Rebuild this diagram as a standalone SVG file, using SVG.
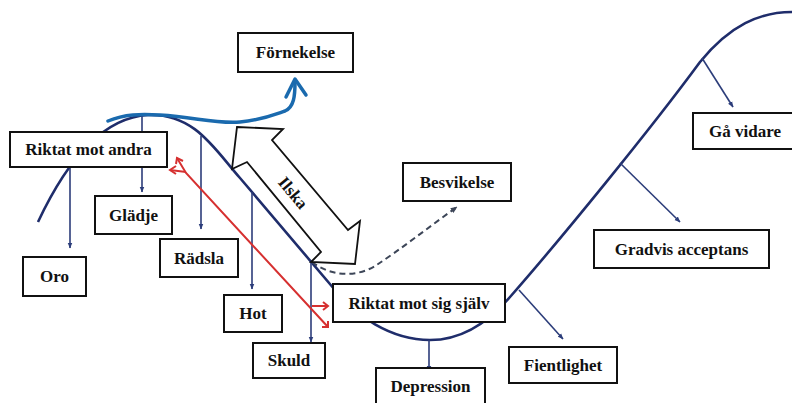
<svg xmlns="http://www.w3.org/2000/svg" width="792" height="403" viewBox="0 0 792 403">
<style>
.box{fill:#fff;stroke:#111;stroke-width:2}
.lbl{font-family:"Liberation Serif","Times New Roman",serif;font-weight:bold;font-size:17px;fill:#111;text-anchor:middle;dominant-baseline:central}
.curve{fill:none;stroke:#1f2d6b;stroke-width:2.6}
.drop{fill:none;stroke:#2c3d7a;stroke-width:1.6;marker-end:url(#ah)}
.red{fill:none;stroke:#d63030;stroke-width:2}
</style>
<defs>
<marker id="ah" viewBox="0 0 10 10" refX="9" refY="5" markerWidth="6" markerHeight="6" orient="auto" markerUnits="userSpaceOnUse">
<path d="M0,1 L10,5 L0,9 Z" fill="#2c3d7a"/>
</marker>
<marker id="ahd" viewBox="0 0 10 10" refX="9" refY="5" markerWidth="7" markerHeight="7" orient="auto" markerUnits="userSpaceOnUse">
<path d="M0,1 L10,5 L0,9 Z" fill="#3d4658"/>
</marker>
</defs>
<rect width="792" height="403" fill="#fff"/>
<g id="connectors">
<path class="curve" d="M38,222 C60,175 95,118 148,115 C195,113 215,150 240,178 L335,290 C355,315 390,340 430,340 C465,340 492,318 510,297 C560,240 650,130 700,62 C730,25 760,12 792,12"/>
<line class="drop" x1="70" y1="163" x2="70" y2="248"/>
<line class="drop" x1="142" y1="116" x2="142" y2="192"/>
<line class="drop" x1="201" y1="136" x2="201" y2="229"/>
<line class="drop" x1="252" y1="192" x2="252" y2="289"/>
<line class="drop" x1="311" y1="262" x2="311" y2="342"/>
<line class="drop" x1="429" y1="340" x2="429" y2="371"/>
<line class="drop" x1="519" y1="290" x2="563" y2="339"/>
<line class="drop" x1="620" y1="163" x2="680" y2="222"/>
<line class="drop" x1="702" y1="58" x2="733" y2="107"/>
<path d="M312,262 C330,276 355,278 375,266 C400,250 430,226 457,207" fill="none" stroke="#3d4658" stroke-width="2" stroke-dasharray="6,4" marker-end="url(#ahd)"/>
<path d="M108,121 C125,114 140,114 160,115 C195,117 215,124 240,122 C262,120 276,114 285,111 C294,107 295,96 295,82" fill="none" stroke="#1a6aae" stroke-width="3.5" stroke-linecap="round"/>
<path d="M286,97 L295,79 L306,95" fill="none" stroke="#1a6aae" stroke-width="3.5" stroke-linecap="round" stroke-linejoin="round"/>
<path class="red" d="M177,158 L186,173 L328,327"/>
<path class="red" d="M170,170 L186,172"/>
<path class="red" d="M176,164 L177,158 L183,161"/>
<path class="red" d="M176,166 L170,170 L176,174"/>
<path class="red" d="M328,321 L328,327 L322,327"/>
<path class="red" d="M312,306 L328,306 M323,302 L328,306 L323,310"/>
</g>
<g id="ilska">
<polygon points="237,127 283,129 272,140 348,230 360,221 355,264 311,262 321,252 247,162 232,169" fill="#fff" stroke="#111" stroke-width="1.8" stroke-linejoin="miter"/>
<text class="lbl" transform="translate(293,193) rotate(50)">Ilska</text>
</g>
<g id="fornekelse"><rect class="box" x="238" y="33" width="115" height="39"/><text class="lbl" x="295.5" y="52.5">Förnekelse</text></g>
<g id="riktat-andra"><rect class="box" x="10" y="132" width="157" height="35"/><text class="lbl" x="88.5" y="149.5">Riktat mot andra</text></g>
<g id="gladje"><rect class="box" x="95" y="196" width="77" height="38"/><text class="lbl" x="133.5" y="215">Glädje</text></g>
<g id="oro"><rect class="box" x="23" y="257" width="63" height="39"/><text class="lbl" x="54.5" y="276.5">Oro</text></g>
<g id="radsla"><rect class="box" x="160" y="239" width="78" height="38"/><text class="lbl" x="199" y="258">Rädsla</text></g>
<g id="hot"><rect class="box" x="224" y="295" width="58" height="37"/><text class="lbl" x="253" y="313.5">Hot</text></g>
<g id="skuld"><rect class="box" x="253" y="343" width="72" height="35"/><text class="lbl" x="289" y="360.5">Skuld</text></g>
<g id="riktat-sig"><rect class="box" x="333" y="284" width="172" height="38"/><text class="lbl" x="419" y="303">Riktat mot sig själv</text></g>
<g id="depression"><rect class="box" x="376" y="368" width="109" height="40"/><text class="lbl" x="430.5" y="386">Depression</text></g>
<g id="besvikelse"><rect class="box" x="403" y="163" width="108" height="38"/><text class="lbl" x="457" y="182">Besvikelse</text></g>
<g id="ga-vidare"><rect class="box" x="693" y="113" width="104" height="36"/><text class="lbl" x="745" y="131">Gå vidare</text></g>
<g id="gradvis"><rect class="box" x="594" y="230" width="175" height="38"/><text class="lbl" x="681.5" y="249">Gradvis acceptans</text></g>
<g id="fientlighet"><rect class="box" x="509" y="347" width="108" height="36"/><text class="lbl" x="563" y="365">Fientlighet</text></g>
</svg>
